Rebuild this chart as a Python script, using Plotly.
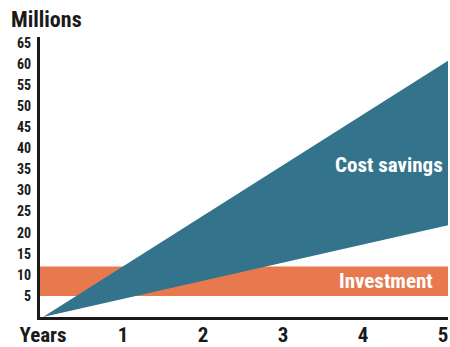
import plotly.graph_objects as go

years = [0, 1, 2, 3, 4, 5]
year_labels = ["Years", "1", "2", "3", "4", "5"]
y_ticks = [5, 10, 15, 20, 25, 30, 35, 40, 45, 50, 55, 60, 65]
# cost savings wedge: value at year 5 for upper and lower edges (starting at 0)
savings_upper_y5 = 60
savings_lower_y5 = 21.5
investment_low = 5
investment_high = 12

FONT = "Roboto Condensed"
BLUE = "#33738C"
ORANGE = "#E8794F"
INK = "#1a1a1a"
X_RANGE = [-0.0375, 5.0625]

xe = X_RANGE[1]
wedge_x = [0, xe, xe]
wedge_y = [0, savings_upper_y5 / 5 * xe, savings_lower_y5 / 5 * xe]

fig = go.Figure()
fig.add_shape(type="rect", xref="x domain", yref="y", x0=0, x1=1,
              y0=investment_low, y1=investment_high,
              fillcolor=ORANGE, line=dict(width=0), layer="below")
fig.add_trace(go.Scatter(x=wedge_x, y=wedge_y, fill="toself", mode="lines",
                         fillcolor=BLUE, line=dict(width=0, color=BLUE),
                         hoverinfo="skip", showlegend=False))

fig.add_annotation(x=5.03, y=36, xref="x", yref="y", text="Cost savings",
                   showarrow=False, xanchor="right", yanchor="middle",
                   font=dict(family=FONT, size=21, color="white", weight="bold"))
fig.add_annotation(x=4.9, y=(investment_low + investment_high) / 2, xref="x", yref="y",
                   text="Investment", showarrow=False, xanchor="right",
                   yanchor="middle", font=dict(family=FONT, size=21, color="white", weight="bold"))
fig.add_annotation(x=-31 / 408, y=1 + (37 - 19) / 280, xref="paper", yref="paper",
                   text="Millions", showarrow=False, xanchor="left", yanchor="middle",
                   font=dict(family=FONT, size=22, color=INK, weight="bold"))

fig.update_xaxes(range=X_RANGE, tickvals=years, ticktext=year_labels,
                 showgrid=False, zeroline=False, showline=True, linecolor=INK,
                 linewidth=3, ticks="", ticklabelstandoff=-3, automargin=False,
                 tickfont=dict(family=FONT, size=21, color=INK, weight="bold"),
                 fixedrange=True)
fig.update_yaxes(range=[0, 66.4], tickvals=y_ticks, showgrid=False, zeroline=False,
                 showline=True, linecolor=INK, linewidth=3, ticks="",
                 ticklabelstandoff=3, automargin=False,
                 tickfont=dict(family=FONT, size=14, color=INK, weight="bold"), fixedrange=True)

fig.update_layout(width=450, height=347, margin=dict(l=40, r=2, t=37, b=30),
                  paper_bgcolor="white", plot_bgcolor="white", showlegend=False)

fig.write_html("out.html")
